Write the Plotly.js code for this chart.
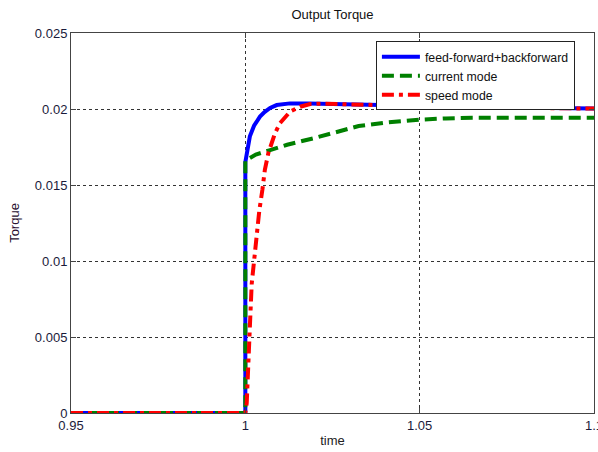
<!DOCTYPE html>
<html>
<head>
<meta charset="utf-8">
<script src="https://cdn.plot.ly/plotly-3.0.1.min.js"></script>
<style>html,body{margin:0;padding:0;background:#fff;}#chart{width:598px;height:452px;}</style>
</head>
<body>
<div id="chart"></div>
<script>
// time samples and torque values
const ffTime = [0.95, 1.0, 1.0, 1.0005, 1.0013, 1.0025, 1.0042, 1.0055, 1.0071, 1.009, 1.0128, 1.018, 1.025, 1.035, 1.05, 1.07, 1.1];
const ffTorque = [0, 0, 0.0165, 0.0173, 0.0182, 0.0189, 0.0195, 0.0198, 0.02007, 0.02026, 0.02037, 0.02037, 0.02033, 0.02027, 0.0202, 0.02012, 0.02004];

const curTime = [0.95, 1.0, 1.0, 1.003, 1.0071, 1.012, 1.02, 1.0275, 1.0325, 1.04, 1.05, 1.0575, 1.065, 1.08, 1.1];
const curTorque = [0, 0, 0.0166, 0.0170, 0.0173, 0.01765, 0.0181, 0.0186, 0.01888, 0.0191, 0.0193, 0.01938, 0.01943, 0.01943, 0.01943];

const spdTime = [0.95, 1.0, 1.0004, 1.00085, 1.00134, 1.00183, 1.0025, 1.0033, 1.004, 1.0049, 1.0056, 1.0066, 1.0071, 1.0085, 1.0099, 1.0128, 1.0157, 1.0186, 1.022, 1.03, 1.04, 1.06, 1.08, 1.1];
const spdTorque = [0, 0, 0.00066, 0.0041, 0.0059, 0.0085, 0.0101, 0.0118, 0.0133, 0.0147, 0.0160, 0.0171, 0.0175, 0.0184, 0.01906, 0.01982, 0.02015, 0.02033, 0.02035, 0.0203, 0.02024, 0.02014, 0.02007, 0.02003];

const seriesNames = ['feed-forward+backforward', 'current mode', 'speed mode'];
const xTicks = [0.95, 1, 1.05, 1.1];
const xTickText = ['0.95', '1', '1.05', '1.1'];
const yTicks = [0, 0.005, 0.01, 0.015, 0.02, 0.025];
const yTickText = ['0', '0.005', '0.01', '0.015', '0.02', '0.025'];

const traces = [
  {x: ffTime, y: ffTorque, name: seriesNames[0], mode: 'lines', line: {color: '#0000ff', width: 4}},
  {x: curTime, y: curTorque, name: seriesNames[1], mode: 'lines', line: {color: '#008000', width: 4, dash: '12px,6px'}},
  {x: spdTime, y: spdTorque, name: seriesNames[2], mode: 'lines', line: {color: '#ff0000', width: 4, dash: '12px,5px,4px,5px'}}
];

const axisCommon = {
  showline: true, mirror: 'ticks', linecolor: '#444', linewidth: 1,
  ticks: 'inside', ticklen: 5, tickcolor: '#444',
  showgrid: true, gridcolor: '#333', gridwidth: 1, griddash: '3px,3px',
  zeroline: false, ticklabeloverflow: 'allow',
  tickfont: {family: 'Liberation Sans, Arial, sans-serif', size: 13, color: '#1a1a3a'}
};

const layout = {
  width: 598, height: 452,
  margin: {l: 71, r: 4, t: 33, b: 39},
  paper_bgcolor: '#fff', plot_bgcolor: '#fff',
  font: {family: 'Liberation Sans, Arial, sans-serif', size: 13, color: '#222'},
  title: {text: 'Output Torque', x: 0.5, xref: 'paper', y: 0.967, yref: 'container', yanchor: 'middle', font: {size: 13, color: '#111'}},
  xaxis: Object.assign({}, axisCommon, {
    range: [0.95, 1.1], tickvals: xTicks, ticktext: xTickText,
    title: {text: 'time', standoff: 4, font: {size: 13, color: '#222'}}
  }),
  yaxis: Object.assign({}, axisCommon, {
    range: [0, 0.025], tickvals: yTicks, ticktext: yTickText,
    title: {text: 'Torque', standoff: 12, font: {size: 13, color: '#2a1030'}}
  }),
  showlegend: true,
  legend: {
    x: 0.583, y: 0.978, xanchor: 'left', yanchor: 'top',
    bgcolor: '#fff', bordercolor: '#222', borderwidth: 1,
    font: {size: 12.3, color: '#111'}, itemwidth: 38, tracegroupgap: 0
  }
};

Plotly.newPlot('chart', traces, layout, {displayModeBar: false, staticPlot: true});
</script>
</body>
</html>
